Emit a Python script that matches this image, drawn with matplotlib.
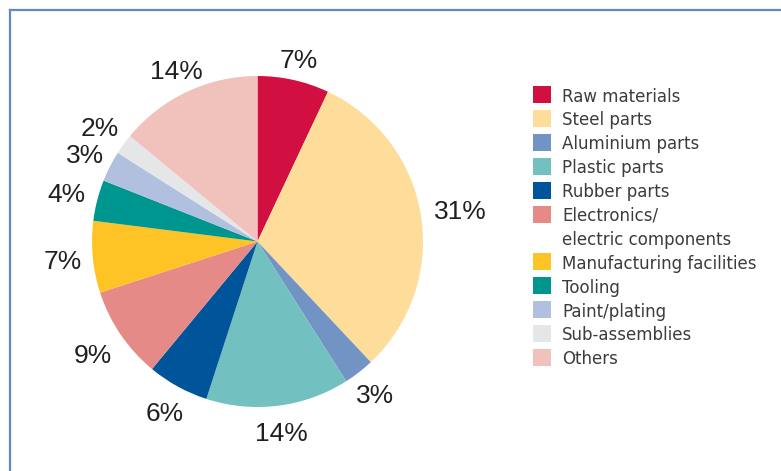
import matplotlib
matplotlib.use('Agg')
import numpy as np
import matplotlib.pyplot as plt
from matplotlib.patches import Rectangle
from matplotlib.lines import Line2D

plt.rcParams['font.family'] = ['Liberation Sans', 'DejaVu Sans']

W, H = 781, 471

categories = ['Raw materials', 'Steel parts', 'Aluminium parts', 'Plastic parts',
              'Rubber parts', 'Electronics/\nelectric components',
              'Manufacturing facilities', 'Tooling', 'Paint/plating',
              'Sub-assemblies', 'Others']
shares = [7, 31, 3, 14, 6, 9, 7, 4, 3, 2, 14]
colors = ['#d10f41', '#fedd9a', '#7294c4', '#72c0bf', '#00549a', '#e58a86',
          '#fec324', '#009690', '#b0c0de', '#e5e6e8', '#f0c2bb']

# distance of each percentage label from the centre, in pie radii
label_dist = [1.13, 1.24, 1.16, 1.16, 1.17, 1.20, 1.18, 1.19, 1.17, 1.18, 1.15]

fig = plt.figure(figsize=(W / 100, H / 100), dpi=100)

# pie centre and radius in pixels
cx, cy, r = 257.5, 241.5, 165.5
ax = fig.add_axes([(cx - r) / W, (H - cy - r) / H, 2 * r / W, 2 * r / H])
wedges, _ = ax.pie(shares, colors=colors, startangle=90, counterclock=False,
                   radius=1, wedgeprops=dict(linewidth=0))
ax.set_xlim(-1, 1)
ax.set_ylim(-1, 1)

for w, v, d in zip(wedges, shares, label_dist):
    mid = np.deg2rad((w.theta1 + w.theta2) / 2)
    ax.text(d * np.cos(mid), d * np.sin(mid), f'{v}%', ha='center',
            va='center_baseline', fontsize=19, color='#231f20', clip_on=False)

# legend drawn row by row
row_y = 94.5
step = 23.9
for name, col in zip(categories, colors):
    lines = name.split('\n')
    fig.add_artist(Rectangle((533 / W, (H - row_y - 8.5) / H), 18 / W, 17 / H,
                             transform=fig.transFigure, facecolor=col,
                             edgecolor='none'))
    for ln in lines:
        fig.text(562 / W, (H - row_y) / H, ln, ha='left', va='center_baseline',
                 fontsize=12.0, color='#3c3c3c', family='DejaVu Sans')
        row_y += step

# frame on the left and top edges
frame_col = '#6289c0'
fig.add_artist(Line2D([10 / W, 10 / W], [0, 1 - 10 / H], transform=fig.transFigure,
                      color=frame_col, lw=1.6))
fig.add_artist(Line2D([10 / W, 1], [1 - 10 / H, 1 - 10 / H], transform=fig.transFigure,
                      color=frame_col, lw=1.6))

fig.savefig('out.png', dpi=100)
